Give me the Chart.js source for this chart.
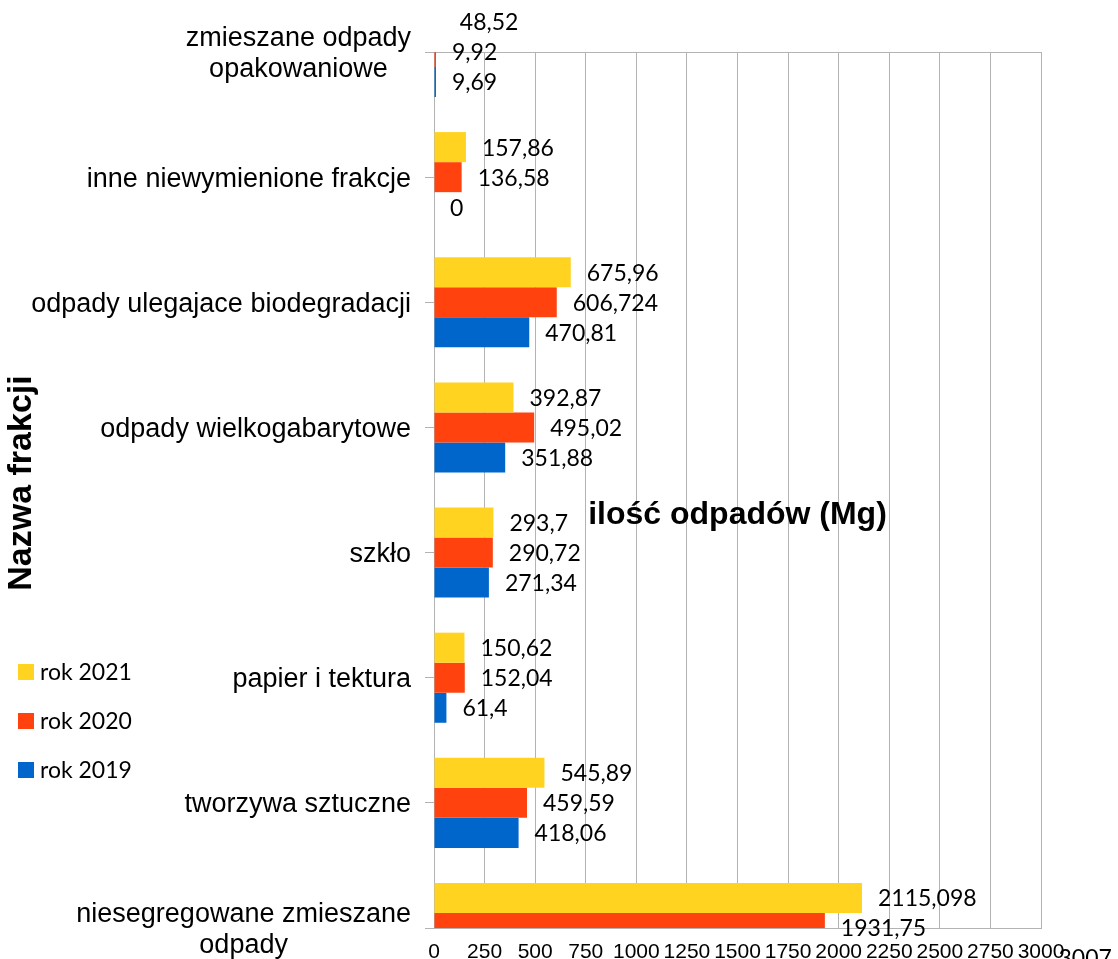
<!DOCTYPE html>
<html>
<head>
  <meta charset="UTF-8">
  <title>Ilość odpadów</title>
  <script src="https://cdn.jsdelivr.net/npm/chart.js@4.4.1/dist/chart.umd.min.js"></script>
  <style>
    body { margin: 0; background: #fff; }
  </style>
</head>
<body>
<canvas id="canvas" width="1118" height="959"></canvas>
<script>
  // kategorie od gory do dolu
  var kategorie = [
    ["zmieszane odpady", "opakowaniowe"],
    "inne niewymienione frakcje",
    "odpady ulegajace biodegradacji",
    "odpady wielkogabarytowe",
    "szkło",
    "papier i tektura",
    "tworzywa sztuczne",
    ["niesegregowane zmieszane", "odpady"]
  ];
  var rok2021 = [48.52, 157.86, 675.96, 392.87, 293.7, 150.62, 545.89, 2115.098];
  var rok2020 = [9.92, 136.58, 606.724, 495.02, 290.72, 152.04, 459.59, 1931.75];
  var rok2019 = [9.69, 0, 470.81, 351.88, 271.34, 61.4, 418.06, 3007.44];
  var osX = { min: 0, max: 3000, krok: 250 };

  var tytulX = "ilość odpadów (Mg)";
  var tytulY = "Nazwa frakcji";

  var SZARY = '#b3b3b3';
  Chart.defaults.font.family = '"Liberation Sans", Arial, sans-serif';

  //liczba z przecinkiem
  function fmt(v) {
    return String(v).replace('.', ',');
  }

  //ramka gorna
  var ramka = {
    id: 'ramka',
    beforeDatasetsDraw: function(chart) {
      var a = chart.chartArea, ctx = chart.ctx;
      ctx.save();
      ctx.strokeStyle = SZARY;
      ctx.lineWidth = 1;
      ctx.beginPath();
      ctx.moveTo(a.left, a.top + 0.5);
      ctx.lineTo(a.right, a.top + 0.5);
      ctx.stroke();
      ctx.restore();
    }
  };

  //wartosci przy slupkach
  var etykiety = {
    id: 'etykiety',
    afterDatasetsDraw: function(chart) {
      var ctx = chart.ctx;
      ctx.save();
      ctx.font = '23px Lato';
      ctx.fillStyle = '#000';
      ctx.textAlign = 'left';
      ctx.textBaseline = 'middle';
      chart.data.datasets.forEach(function(ds, i) {
        chart.getDatasetMeta(i).data.forEach(function(bar, j) {
          ctx.fillText(fmt(ds.data[j]), bar.x + 16, bar.y + 1);
        });
      });
      ctx.restore();
    }
  };

  //opisy kategorii, tytuly, legenda
  var opisy = {
    id: 'opisy',
    afterDraw: function(chart) {
      var ctx = chart.ctx, a = chart.chartArea, sy = chart.scales.y;
      ctx.save();
      ctx.fillStyle = '#000';
      ctx.textBaseline = 'middle';
      ctx.font = '27px "Liberation Sans", Arial';
      var prawa = a.left - 23;
      kategorie.forEach(function(lab, i) {
        var linie = Array.isArray(lab) ? lab : [lab];
        var w = Math.max.apply(null, linie.map(function(l) { return ctx.measureText(l).width; }));
        var cy = sy.getPixelForValue(i);
        ctx.textAlign = 'center';
        linie.forEach(function(l, k) {
          ctx.fillText(l, prawa - w / 2, cy + 2 + (k - (linie.length - 1) / 2) * 31);
        });
      });

      //tytul osi X (w srodku wykresu)
      ctx.font = 'bold 32px "Liberation Sans", Arial';
      ctx.textAlign = 'center';
      ctx.fillText(tytulX, (a.left + a.right) / 2, (a.top + a.bottom) / 2 + 25);

      //tytul osi Y
      ctx.save();
      ctx.translate(22, 483);
      ctx.rotate(-Math.PI / 2);
      ctx.font = 'bold 34px "Liberation Sans", Arial';
      ctx.fillText(tytulY, 0, 0);
      ctx.restore();

      //legenda
      ctx.font = '23px Lato';
      ctx.textAlign = 'left';
      chart.data.datasets.forEach(function(ds, i) {
        var y = 672 + i * 49;
        ctx.fillStyle = ds.backgroundColor;
        ctx.fillRect(18, y - 8, 16, 16);
        ctx.fillStyle = '#000';
        ctx.fillText(ds.label, 40, y + 1);
      });
      ctx.restore();
    }
  };

  var ctx = document.getElementById("canvas").getContext("2d");
  new Chart(ctx, {
    type: 'bar',
    data: {
      labels: kategorie,
      datasets: [
        { label: 'rok 2021', data: rok2021, backgroundColor: '#ffd320' },
        { label: 'rok 2020', data: rok2020, backgroundColor: '#ff420e' },
        { label: 'rok 2019', data: rok2019, backgroundColor: '#0066cc' }
      ]
    },
    options: {
      indexAxis: 'y',
      responsive: false,
      animation: false,
      layout: { padding: { top: 52, right: 77, bottom: 0, left: 0 } },
      datasets: { bar: { categoryPercentage: 0.72, barPercentage: 1, clip: 0 } },
      plugins: { legend: { display: false }, tooltip: { enabled: false } },
      scales: {
        x: {
          min: osX.min,
          max: osX.max,
          ticks: { stepSize: osX.krok, autoSkip: false, maxRotation: 0, color: '#000', padding: 12,
                   font: { size: 21 },
                   callback: function(v) { return String(v); } },
          grid: { color: SZARY, drawTicks: false },
          border: { color: SZARY },
          afterFit: function(s) { s.height = 31; }
        },
        y: {
          offset: false,
          ticks: { display: false },
          grid: { offset: false, drawOnChartArea: false, tickLength: 9, color: SZARY },
          border: { color: SZARY },
          afterFit: function(s) { s.width = 434; }
        }
      }
    },
    plugins: [ramka, etykiety, opisy]
  });
</script>
</body>
</html>
